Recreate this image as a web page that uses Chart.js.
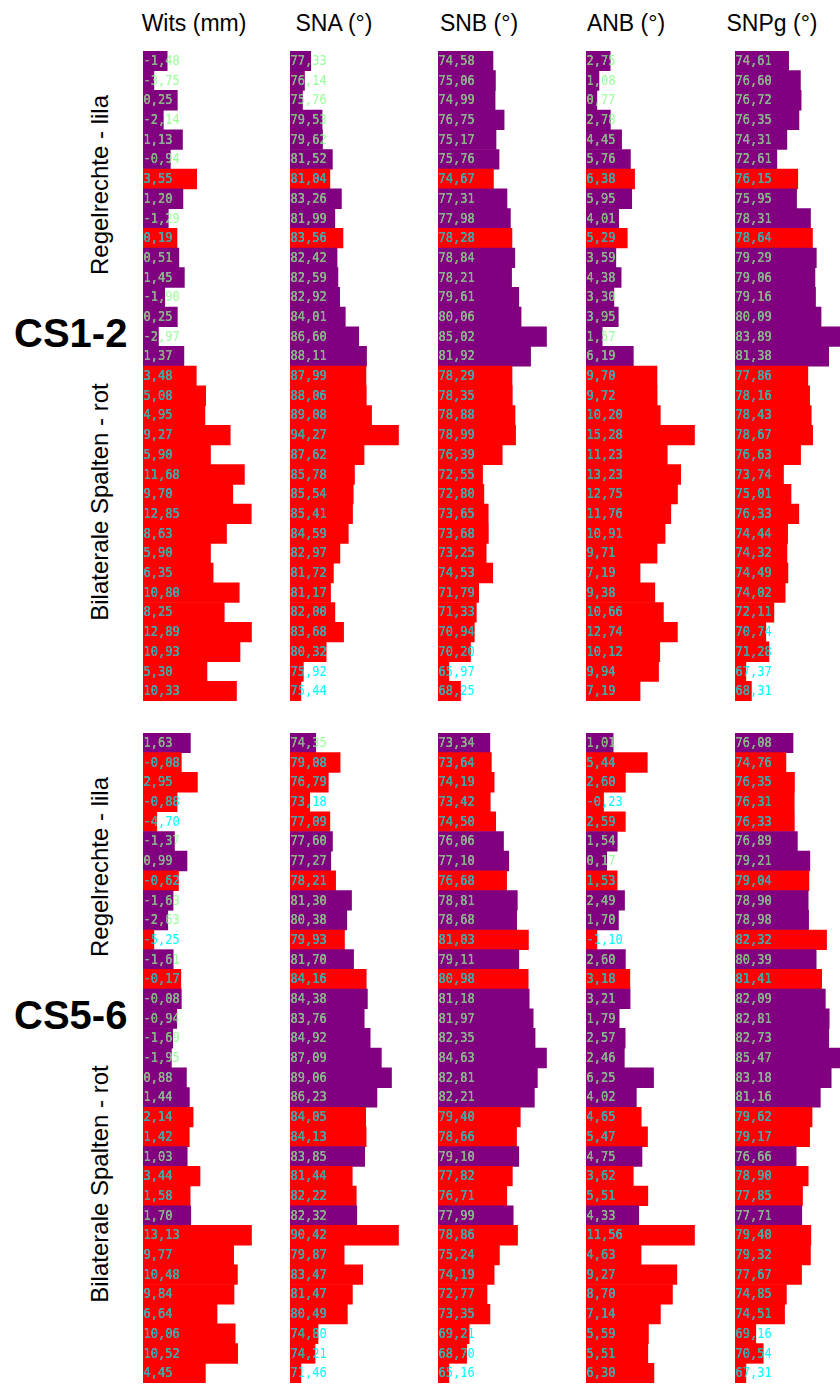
<!DOCTYPE html>
<html>
<head>
<meta charset="utf-8">
<script src="https://cdn.jsdelivr.net/npm/chart.js@4.4.1/dist/chart.umd.min.js"></script>
<style>
body { margin:0; background:#fff; width:840px; height:1385px; overflow:hidden; position:relative; font-family: Arial, 'Liberation Sans', sans-serif; color:#000; }
.box { position:absolute; }
.title { position:absolute; font-size:23px; line-height:23px; white-space:nowrap; transform:translateX(-50%); }
.side { position:absolute; font-size:24px; line-height:24px; white-space:nowrap; transform:translate(-50%,-50%) rotate(-90deg); }
.panel { position:absolute; font-size:40px; line-height:40px; font-weight:bold; white-space:nowrap; transform:translateY(-50%); }
</style>
</head>
<body>
<script>
// Spaltentitel
var columnTitles = ['Wits (mm)', 'SNA (°)', 'SNB (°)', 'ANB (°)', 'SNPg (°)'];
var panelNames = ['CS1-2', 'CS5-6'];
var groupNames = ['Regelrechte - lila', 'Bilaterale Spalten - rot'];

// CS1-2
var cs12Wits = [-1.48, -3.75, 0.25, -2.14, 1.13, -0.94, 3.55, 1.20, -1.29, 0.19, 0.51, 1.45, -1.90, 0.25, -2.97, 1.37,
    3.48, 5.08, 4.95, 9.27, 5.90, 11.68, 9.70, 12.85, 8.63, 5.90, 6.35, 10.80, 8.25, 12.89, 10.93, 5.30, 10.33];
var cs12Sna = [77.33, 76.14, 75.76, 79.53, 79.62, 81.52, 81.04, 83.26, 81.99, 83.56, 82.42, 82.59, 82.92, 84.01, 86.60, 88.11,
    87.99, 88.06, 89.08, 94.27, 87.62, 85.78, 85.54, 85.41, 84.59, 82.97, 81.72, 81.17, 82.00, 83.68, 80.32, 75.92, 75.44];
var cs12Snb = [74.58, 75.06, 74.99, 76.75, 75.17, 75.76, 74.67, 77.31, 77.98, 78.28, 78.84, 78.21, 79.61, 80.06, 85.02, 81.92,
    78.29, 78.35, 78.88, 78.99, 76.39, 72.55, 72.80, 73.65, 73.68, 73.25, 74.53, 71.79, 71.33, 70.94, 70.20, 65.97, 68.25];
var cs12Anb = [2.75, 1.08, 0.77, 2.78, 4.45, 5.76, 6.38, 5.95, 4.01, 5.29, 3.59, 4.38, 3.30, 3.95, 1.57, 6.19,
    9.70, 9.72, 10.20, 15.28, 11.23, 13.23, 12.75, 11.76, 10.91, 9.71, 7.19, 9.38, 10.66, 12.74, 10.12, 9.94, 7.19];
var cs12Snpg = [74.61, 76.60, 76.72, 76.35, 74.31, 72.61, 76.15, 75.95, 78.31, 78.64, 79.29, 79.06, 79.16, 80.09, 83.89, 81.38,
    77.86, 78.16, 78.43, 78.67, 76.63, 73.74, 75.01, 76.33, 74.44, 74.32, 74.49, 74.02, 72.11, 70.74, 71.28, 67.37, 68.31];
// L = lila, R = rot
var cs12Groups = ['L','L','L','L','L','L','R','L','L','R','L','L','L','L','L','L',
    'R','R','R','R','R','R','R','R','R','R','R','R','R','R','R','R','R'];

// CS5-6
var cs56Wits = [1.63, -0.08, 2.95, -0.88, -4.70, -1.37, 0.99, -0.62, -1.63, -2.63, -5.25, -1.61, -0.17, -0.08, -0.94, -1.69,
    -1.95, 0.88, 1.44, 2.14, 1.42, 1.03, 3.44, 1.58, 1.70, 13.13, 9.77, 10.48, 9.84, 6.64, 10.06, 10.52, 4.45];
var cs56Sna = [74.35, 79.08, 76.79, 73.18, 77.09, 77.60, 77.27, 78.21, 81.30, 80.38, 79.93, 81.70, 84.16, 84.38, 83.76, 84.92,
    87.09, 89.06, 86.23, 84.05, 84.13, 83.85, 81.44, 82.22, 82.32, 90.42, 79.87, 83.47, 81.47, 80.49, 74.80, 74.21, 71.46];
var cs56Snb = [73.34, 73.64, 74.19, 73.42, 74.50, 76.06, 77.10, 76.68, 78.81, 78.68, 81.03, 79.11, 80.98, 81.18, 81.97, 82.35,
    84.63, 82.81, 82.21, 79.40, 78.66, 79.10, 77.82, 76.71, 77.99, 78.86, 75.24, 74.19, 72.77, 73.35, 69.21, 68.70, 65.16];
var cs56Anb = [1.01, 5.44, 2.60, -0.23, 2.59, 1.54, 0.17, 1.53, 2.49, 1.70, -1.10, 2.60, 3.18, 3.21, 1.79, 2.57,
    2.46, 6.25, 4.02, 4.65, 5.47, 4.75, 3.62, 5.51, 4.33, 11.56, 4.63, 9.27, 8.70, 7.14, 5.59, 5.51, 6.30];
var cs56Snpg = [76.08, 74.76, 76.35, 76.31, 76.33, 76.89, 79.21, 79.04, 78.90, 78.98, 82.32, 80.39, 81.41, 82.09, 82.81, 82.73,
    85.47, 83.18, 81.16, 79.62, 79.17, 76.66, 78.90, 77.85, 77.71, 79.40, 79.32, 77.67, 74.85, 74.51, 69.16, 70.54, 67.31];
var cs56Groups = ['L','R','R','R','R','L','L','R','L','L','R','L','R','L','L','L',
    'L','L','L','R','R','L','R','R','L','R','R','R','R','R','R','R','R'];

var colLeft = [142.5, 290.3, 438.3, 586, 734.5];
var titleCenter = [194, 334, 479, 626, 772];
var panelTop = [50.7, 733];
var panelHeight = 650;
var colWidth = 147;
var barMax = 108.5;

var barColor = { L: '#800080', R: '#ff0000' };
var textColor = { L: '#99ff99', R: '#00ffff' };
var textOnBar = { L: '#8aae8a', R: '#46a0a0' };

function fmt(v) {
    return v.toFixed(2).replace('.', ',');
}

function addText(cls, text, left, top) {
    var d = document.createElement('div');
    d.className = cls;
    d.textContent = text;
    d.style.left = left + 'px';
    d.style.top = top + 'px';
    document.body.appendChild(d);
}

// Datenbalken wie in Excel: kleinster Wert = 10% Länge
function makeChart(left, top, values, groups) {
    var box = document.createElement('div');
    box.className = 'box';
    box.style.left = left + 'px';
    box.style.top = top + 'px';
    box.style.width = colWidth + 'px';
    box.style.height = panelHeight + 'px';
    var canvas = document.createElement('canvas');
    box.appendChild(canvas);
    document.body.appendChild(box);

    var min = Math.min.apply(null, values);
    var max = Math.max.apply(null, values);
    var lo = min - (max - min) / 9;
    var hi = lo + (max - lo) * colWidth / barMax;

    var labelPlugin = {
        id: 'valueLabels',
        afterDatasetsDraw: function(chart) {
            var ctx = chart.ctx;
            var meta = chart.getDatasetMeta(0);
            ctx.save();
            ctx.font = "12px 'DejaVu Sans Mono'";
            ctx.textBaseline = 'middle';
            ctx.textAlign = 'left';
            meta.data.forEach(function(bar, i) {
                var p = bar.getProps(['x', 'y', 'base', 'height'], true);
                var x0 = Math.min(p.x, p.base);
                var w = Math.abs(p.x - p.base);
                var txt = fmt(values[i]);
                var g = groups[i];
                var draw = function(color) {
                    ctx.save();
                    ctx.translate(x0 + 0.5, p.y + 0.5);
                    ctx.scale(1, 1.15);
                    ctx.fillStyle = color;
                    ctx.fillText(txt, 0, 0);
                    ctx.restore();
                };
                draw(textColor[g]);
                ctx.save();
                ctx.beginPath();
                ctx.rect(x0, p.y - p.height / 2, w, p.height);
                ctx.clip();
                draw(textOnBar[g]);
                ctx.restore();
            });
            ctx.restore();
        }
    };

    return new Chart(canvas, {
        type: 'bar',
        data: {
            labels: values.map(function(v, i) { return i + 1; }),
            datasets: [{
                data: values.map(function(v) { return [lo, v]; }),
                backgroundColor: groups.map(function(g) { return barColor[g]; }),
                borderWidth: 0,
                barPercentage: 1,
                categoryPercentage: 1
            }]
        },
        options: {
            indexAxis: 'y',
            responsive: true,
            maintainAspectRatio: false,
            animation: false,
            layout: { padding: 0 },
            scales: {
                x: { type: 'linear', min: lo, max: hi, display: false },
                y: { display: false }
            },
            plugins: {
                legend: { display: false },
                tooltip: { enabled: false }
            }
        },
        plugins: [labelPlugin]
    });
}

columnTitles.forEach(function(t, i) {
    addText('title', t, titleCenter[i], 11.5);
});

var panels = [
    { cols: [cs12Wits, cs12Sna, cs12Snb, cs12Anb, cs12Snpg], groups: cs12Groups },
    { cols: [cs56Wits, cs56Sna, cs56Snb, cs56Anb, cs56Snpg], groups: cs56Groups }
];

panels.forEach(function(p, k) {
    var top = panelTop[k];
    p.cols.forEach(function(vals, i) {
        makeChart(colLeft[i], top, vals, p.groups);
    });
    addText('side', groupNames[0], 100, top + 134);
    addText('side', groupNames[1], 100, top + 451);
    addText('panel', panelNames[k], 14, top + 282);
});
</script>
</body>
</html>
